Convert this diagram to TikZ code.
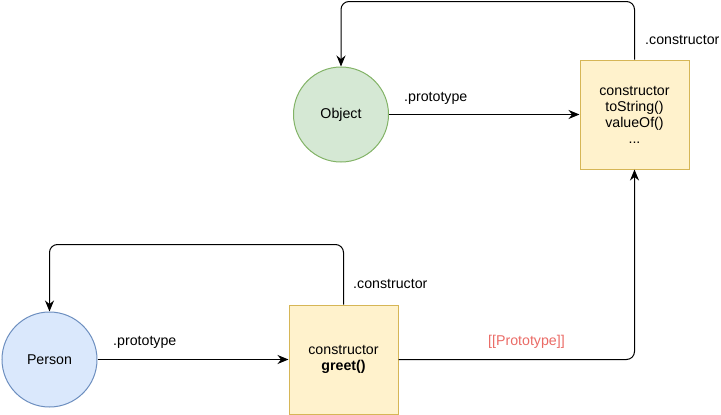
\documentclass[tikz,border=0pt]{standalone}
\usepackage{fontspec}
\setmainfont{Liberation Sans}
\usetikzlibrary{arrows.meta,positioning}
\definecolor{gfill}{HTML}{D5E8D4}
\definecolor{gline}{HTML}{82B366}
\definecolor{bfill}{HTML}{DAE8FC}
\definecolor{bline}{HTML}{6C8EBF}
\definecolor{yfill}{HTML}{FFF2CC}
\definecolor{yline}{HTML}{D6B656}
\definecolor{protored}{HTML}{EA6B66}
\tikzset{
  circ/.style={circle, draw, line width=1pt, minimum size=95pt, inner sep=0pt, font=\fontsize{14.2}{16}\selectfont},
  protobox/.style={rectangle, draw=yline, fill=yfill, line width=1pt, minimum width=109pt, minimum height=109pt, inner sep=0pt, align=center, font=\fontsize{14.2}{16}\selectfont},
  conn/.style={line width=1pt, -{Stealth[length=11pt,width=9pt]}},
  lbl/.style={font=\fontsize{14.2}{16}\selectfont, inner sep=0pt}
}
\begin{document}
\begin{tikzpicture}[x=1pt,y=-1pt]
\useasboundingbox (0,0) rectangle (721,415);
\node[circ, draw=gline, fill=gfill] (object) at (341,114.5) {Object};
\node[protobox] (objbox) at (634.5,114.5) {constructor\\toString()\\valueOf()\\...};
\node[circ, draw=bline, fill=bfill] (person) at (49.5,359.5) {Person};
\node[protobox] (pbox) at (343.5,359.5) {constructor\\\textbf{greet()}};
% edges
\draw[conn, rounded corners=8pt] (objbox.north) -- ++(0,-58) -| (object.north);
\draw[conn] (object.east) -- (objbox.west);
\draw[conn, rounded corners=8pt] (pbox.north) -- ++(0,-60) -| (person.north);
\draw[conn] (person.east) -- (pbox.west);
\draw[conn, rounded corners=8pt] (pbox.east) -| (objbox.south);
% labels
\node[lbl, anchor=west] (l1) at (645,40) {.constructor};
\node[lbl, anchor=west] (l2) at (404,98) {.prototype};
\node[lbl, anchor=west] (l3) at (353,284) {.constructor};
\node[lbl, anchor=west] (l4) at (113,342) {.prototype};
\node[lbl, anchor=west, text=protored] (l5) at (488,342) {[[Prototype]]};
\end{tikzpicture}
\end{document}
